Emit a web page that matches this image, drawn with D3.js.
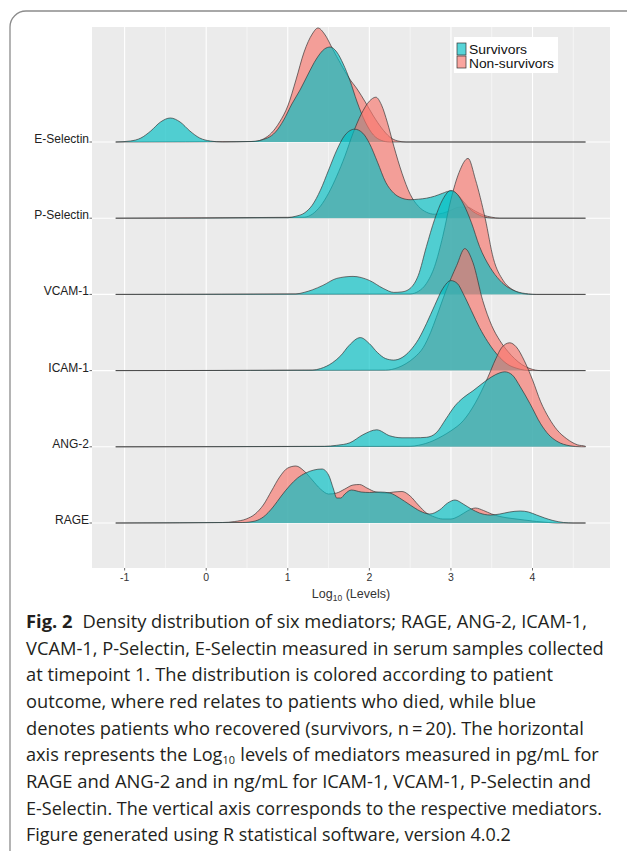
<!DOCTYPE html>
<html>
<head>
<meta charset="utf-8">
<script src="https://cdn.jsdelivr.net/npm/d3@7"></script>
<style>
  body { margin: 0; background: #fff; }
  svg { display: block; }
</style>
</head>
<body>
<svg id="chart" width="627" height="851" viewBox="0 0 627 851"></svg>
<script>
// mediators, top row first
const mediators = ["E-Selectin", "P-Selectin", "VCAM-1", "ICAM-1", "ANG-2", "RAGE"];
const groups = ["Survivors", "Non-survivors"];
const xTicks = [-1, 0, 1, 2, 3, 4];
const xRange = [-1.11, 4.65];

// density readings [log10 level, density] per mediator
const survivors = {
  "E-Selectin": [[-0.93,0.01],[-0.8,0.04],[-0.68,0.11],[-0.56,0.2],[-0.44,0.24],[-0.32,0.2],[-0.2,0.11],[-0.08,0.04],[0.05,0.01],[0.2,0],[0.55,0.005],[0.75,0.04],[0.85,0.1],[0.95,0.22],[1.05,0.38],[1.15,0.52],[1.25,0.68],[1.35,0.83],[1.45,0.93],[1.52,0.95],[1.6,0.9],[1.68,0.78],[1.76,0.62],[1.85,0.4],[1.95,0.2],[2.05,0.07],[2.15,0.015],[2.25,0]],
  "P-Selectin": [[1.0,0.005],[1.1,0.02],[1.2,0.05],[1.3,0.13],[1.4,0.28],[1.5,0.48],[1.6,0.68],[1.7,0.83],[1.82,0.89],[1.92,0.85],[2.0,0.75],[2.1,0.56],[2.2,0.36],[2.3,0.25],[2.4,0.2],[2.5,0.185],[2.6,0.19],[2.7,0.2],[2.8,0.22],[2.9,0.25],[2.98,0.27],[3.06,0.25],[3.15,0.17],[3.25,0.08],[3.35,0.03],[3.45,0.005],[3.55,0]],
  "VCAM-1": [[1.1,0.005],[1.2,0.02],[1.3,0.045],[1.43,0.09],[1.6,0.16],[1.8,0.18],[2.0,0.14],[2.17,0.06],[2.3,0.02],[2.4,0.025],[2.5,0.06],[2.6,0.19],[2.7,0.48],[2.8,0.75],[2.9,0.95],[3.0,1.04],[3.08,1.0],[3.15,0.91],[3.25,0.72],[3.35,0.48],[3.48,0.27],[3.6,0.14],[3.7,0.07],[3.8,0.03],[3.95,0.005],[4.05,0]],
  "ICAM-1": [[1.3,0.005],[1.4,0.02],[1.55,0.08],[1.65,0.15],[1.75,0.25],[1.89,0.33],[2.0,0.27],[2.1,0.18],[2.2,0.12],[2.3,0.105],[2.4,0.13],[2.5,0.2],[2.6,0.31],[2.7,0.47],[2.8,0.65],[2.9,0.82],[3.0,0.9],[3.08,0.87],[3.15,0.77],[3.25,0.6],[3.35,0.43],[3.45,0.29],[3.6,0.13],[3.7,0.06],[3.8,0.025],[3.9,0.005],[4.0,0]],
  "ANG-2": [[1.45,0.005],[1.6,0.015],[1.76,0.04],[1.92,0.12],[2.09,0.17],[2.25,0.11],[2.4,0.09],[2.55,0.09],[2.7,0.095],[2.82,0.14],[2.94,0.28],[3.05,0.41],[3.15,0.49],[3.27,0.56],[3.38,0.63],[3.5,0.7],[3.6,0.74],[3.66,0.75],[3.75,0.72],[3.85,0.6],[3.97,0.43],[4.1,0.23],[4.2,0.12],[4.3,0.055],[4.46,0.01],[4.6,0]],
  "RAGE": [[0.45,0.005],[0.6,0.02],[0.7,0.06],[0.82,0.16],[0.92,0.27],[1.02,0.37],[1.12,0.45],[1.22,0.5],[1.32,0.53],[1.42,0.54],[1.5,0.48],[1.56,0.34],[1.6,0.25],[1.65,0.25],[1.7,0.29],[1.78,0.33],[1.9,0.31],[2.0,0.305],[2.13,0.31],[2.25,0.3],[2.37,0.25],[2.5,0.18],[2.62,0.12],[2.74,0.09],[2.86,0.13],[2.96,0.2],[3.05,0.23],[3.15,0.19],[3.25,0.14],[3.35,0.1],[3.48,0.08],[3.6,0.09],[3.72,0.11],[3.85,0.12],[3.95,0.11],[4.05,0.08],[4.15,0.05],[4.25,0.025],[4.38,0.005],[4.5,0]]
};

const nonSurvivors = {
  "E-Selectin": [[0.6,0.005],[0.7,0.03],[0.8,0.09],[0.9,0.2],[1.0,0.36],[1.1,0.62],[1.2,0.9],[1.3,1.08],[1.37,1.14],[1.45,1.08],[1.55,0.93],[1.65,0.78],[1.75,0.64],[1.85,0.53],[1.95,0.4],[2.05,0.26],[2.15,0.14],[2.25,0.05],[2.35,0.01],[2.45,0]],
  "P-Selectin": [[1.2,0.01],[1.3,0.04],[1.4,0.12],[1.5,0.25],[1.6,0.42],[1.7,0.62],[1.8,0.85],[1.9,1.04],[2.0,1.17],[2.08,1.21],[2.15,1.13],[2.22,0.96],[2.3,0.72],[2.4,0.45],[2.5,0.24],[2.6,0.12],[2.7,0.06],[2.8,0.04],[2.9,0.05],[3.0,0.08],[3.1,0.11],[3.2,0.11],[3.3,0.07],[3.4,0.03],[3.5,0.01],[3.6,0]],
  "VCAM-1": [[2.5,0.005],[2.6,0.03],[2.7,0.11],[2.8,0.28],[2.9,0.58],[3.0,0.95],[3.1,1.22],[3.21,1.36],[3.3,1.15],[3.42,0.76],[3.52,0.36],[3.64,0.14],[3.76,0.045],[3.9,0.005],[4.0,0]],
  "ICAM-1": [[2.2,0.005],[2.35,0.03],[2.45,0.07],[2.55,0.13],[2.66,0.23],[2.75,0.38],[2.82,0.53],[2.94,0.8],[3.07,1.05],[3.17,1.22],[3.27,1.08],[3.39,0.7],[3.5,0.45],[3.6,0.3],[3.7,0.19],[3.78,0.12],[3.87,0.06],[3.97,0.02],[4.1,0]],
  "ANG-2": [[2.5,0.005],[2.6,0.015],[2.78,0.06],[2.9,0.11],[3.0,0.16],[3.15,0.26],[3.3,0.44],[3.45,0.69],[3.55,0.88],[3.62,0.99],[3.72,1.04],[3.8,1.0],[3.9,0.86],[4.0,0.67],[4.1,0.45],[4.2,0.29],[4.3,0.17],[4.42,0.08],[4.55,0.02],[4.65,0.005]],
  "RAGE": [[0.2,0.005],[0.35,0.015],[0.49,0.04],[0.6,0.09],[0.7,0.18],[0.8,0.32],[0.9,0.46],[1.0,0.55],[1.1,0.57],[1.2,0.52],[1.3,0.43],[1.4,0.34],[1.5,0.29],[1.6,0.3],[1.7,0.34],[1.8,0.38],[1.88,0.385],[1.97,0.35],[2.08,0.31],[2.2,0.3],[2.3,0.31],[2.4,0.315],[2.5,0.27],[2.6,0.18],[2.7,0.1],[2.8,0.06],[2.9,0.04],[3.0,0.04],[3.1,0.07],[3.2,0.12],[3.3,0.15],[3.4,0.125],[3.5,0.09],[3.6,0.065],[3.75,0.045],[3.9,0.03],[4.05,0.015],[4.2,0.005],[4.3,0]]
};

// caption lines as pieces [text, style]; style: "b" bold, "s" subscript, "" normal
const captionLines = [
  [["Fig. 2", "b"], ["  Density distribution of six mediators; RAGE, ANG-2, ICAM-1,", ""]],
  [["VCAM-1, P-Selectin, E-Selectin measured in serum samples collected", ""]],
  [["at timepoint 1. The distribution is colored according to patient", ""]],
  [["outcome, where red relates to patients who died, while blue", ""]],
  [["denotes patients who recovered (survivors, n\u2009=\u200920). The horizontal", ""]],
  [["axis represents the Log", ""], ["10", "s"], [" levels of mediators measured in pg/mL for", ""]],
  [["RAGE and ANG-2 and in ng/mL for ICAM-1, VCAM-1, P-Selectin and", ""]],
  [["E-Selectin. The vertical axis corresponds to the respective mediators.", ""]],
  [["Figure generated using R statistical software, version 4.0.2", ""]]
];
const captionEnds = [587, 604, 553, 536, 584, 599, 591, 602, 511];

const svg = d3.select("#chart");
const colors = { "Survivors": "#00BFC4", "Non-survivors": "#F8766D" };
const panel = { left: 92, right: 610, top: 27, bottom: 568 };

// outer rounded frame
svg.append("rect")
  .attr("x", 10).attr("y", 11)
  .attr("width", 700).attr("height", 900)
  .attr("rx", 16)
  .attr("fill", "none")
  .attr("stroke", "#8c8c8c")
  .attr("stroke-width", 1.3);

const x = d3.scaleLinear().domain([-1.40, 4.95]).range([panel.left, panel.right]);
const yRow = d3.scalePoint().domain(mediators).range([142, 523]);
const h = d3.scaleLinear().domain([0, 1]).range([0, 100]);

// panel background + grid
svg.append("rect")
  .attr("x", panel.left).attr("y", panel.top)
  .attr("width", panel.right - panel.left).attr("height", panel.bottom - panel.top)
  .attr("fill", "#EBEBEB");

const grid = svg.append("g");
const minorTicks = d3.range(-1.5, 5, 1).filter(v => x(v) > panel.left && x(v) < panel.right);
grid.selectAll("line.minor").data(minorTicks).enter().append("line")
  .attr("x1", d => x(d)).attr("x2", d => x(d))
  .attr("y1", panel.top).attr("y2", panel.bottom)
  .attr("stroke", "#fff").attr("stroke-width", 0.5);
grid.selectAll("line.major").data(xTicks).enter().append("line")
  .attr("x1", d => x(d)).attr("x2", d => x(d))
  .attr("y1", panel.top).attr("y2", panel.bottom)
  .attr("stroke", "#fff").attr("stroke-width", 1.1);
grid.selectAll("line.row").data(mediators).enter().append("line")
  .attr("x1", panel.left).attr("x2", panel.right)
  .attr("y1", d => yRow(d)).attr("y2", d => yRow(d))
  .attr("stroke", "#fff").attr("stroke-width", 1.1);

// ridges, top row first so lower rows overlap upper ones
const withEnds = pts => [[xRange[0], 0]].concat(pts, [[xRange[1], 0]]);
const ridges = svg.append("g");
mediators.forEach(m => {
  const base = yRow(m);
  const area = d3.area()
    .x(d => x(d[0]))
    .y0(base)
    .y1(d => base - h(d[1]))
    .curve(d3.curveMonotoneX);
  const line = d3.line()
    .x(d => x(d[0]))
    .y(d => base - h(d[1]))
    .curve(d3.curveMonotoneX);
  [["Non-survivors", nonSurvivors[m]], ["Survivors", survivors[m]]].forEach(([g, pts]) => {
    const full = withEnds(pts);
    ridges.append("path")
      .attr("d", area(full))
      .attr("fill", colors[g])
      .attr("fill-opacity", 0.66);
    ridges.append("path")
      .attr("d", line(full))
      .attr("fill", "none")
      .attr("stroke", "#333")
      .attr("stroke-opacity", 0.8)
      .attr("stroke-width", 0.85);
  });
});

// y axis labels + ticks
const yAxis = svg.append("g");
yAxis.selectAll("text").data(mediators).enter().append("text")
  .attr("x", panel.left - 3)
  .attr("y", d => yRow(d) + 1)
  .attr("text-anchor", "end")
  .attr("font-family", "Liberation Sans, Arial, sans-serif")
  .attr("font-size", 12)
  .attr("fill", "#222")
  .text(d => d);
yAxis.selectAll("line").data(mediators).enter().append("line")
  .attr("x1", panel.left - 2.5).attr("x2", panel.left)
  .attr("y1", d => yRow(d)).attr("y2", d => yRow(d))
  .attr("stroke", "#444").attr("stroke-width", 0.8);

// x axis
const xAxis = svg.append("g");
xAxis.selectAll("line").data(xTicks).enter().append("line")
  .attr("x1", d => x(d)).attr("x2", d => x(d))
  .attr("y1", panel.bottom).attr("y2", panel.bottom + 2.5)
  .attr("stroke", "#444").attr("stroke-width", 0.8);
xAxis.selectAll("text").data(xTicks).enter().append("text")
  .attr("x", d => x(d))
  .attr("y", 581)
  .attr("text-anchor", "middle")
  .attr("font-family", "Liberation Sans, Arial, sans-serif")
  .attr("font-size", 10.5)
  .attr("fill", "#333")
  .text(d => d);

const xTitle = svg.append("text")
  .attr("x", (panel.left + panel.right) / 2)
  .attr("y", 598)
  .attr("text-anchor", "middle")
  .attr("font-family", "Liberation Sans, Arial, sans-serif")
  .attr("font-size", 12.5)
  .attr("fill", "#333");
xTitle.append("tspan").text("Log");
xTitle.append("tspan").attr("font-size", 8.5).attr("dy", 2.5).text("10");
xTitle.append("tspan").attr("dy", -2.5).text(" (Levels)");

// legend
const legend = svg.append("g");
legend.append("rect")
  .attr("x", 454).attr("y", 37).attr("width", 104).attr("height", 36)
  .attr("fill", "#fff");
groups.forEach((g, i) => {
  legend.append("rect")
    .attr("x", 457).attr("y", 43 + i * 13)
    .attr("width", 9).attr("height", 12)
    .attr("fill", colors[g]).attr("fill-opacity", 0.66)
    .attr("stroke", "#333").attr("stroke-width", 0.7);
  legend.append("text")
    .attr("x", 469).attr("y", 54.2 + i * 13.8)
    .attr("font-family", "Liberation Sans, Arial, sans-serif")
    .attr("font-size", 12.6)
    .attr("fill", "#111")
    .attr("textLength", i === 0 ? 58 : 85).attr("lengthAdjust", "spacingAndGlyphs")
    .text(g);
});

// caption: each line laid out at natural width, then the line group is squeezed to fit
const capFont = "Open Sans, Noto Sans, sans-serif";
const capSize = 18.4;
const capX = 26, capY0 = 628, capStep = 26.67;
captionLines.forEach((pieces, i) => {
  const g = svg.append("g");
  let cx = 0;
  pieces.forEach(([t, style]) => {
    const el = g.append("text")
      .attr("x", cx)
      .attr("y", style === "s" ? 3 : 0)
      .attr("font-family", capFont)
      .attr("font-size", style === "s" ? 11 : capSize)
      .attr("font-weight", style === "b" ? 700 : 400)
      .attr("fill", "#231f20")
      .style("white-space", "pre")
      .text(t);
    cx += el.node().getComputedTextLength() + (style === "" ? 0 : 0.6);
  });
  const k = (captionEnds[i] - capX) / cx;
  g.attr("transform", `translate(${capX},${capY0 + i * capStep}) scale(${k},1)`);
});
</script>
</body>
</html>
